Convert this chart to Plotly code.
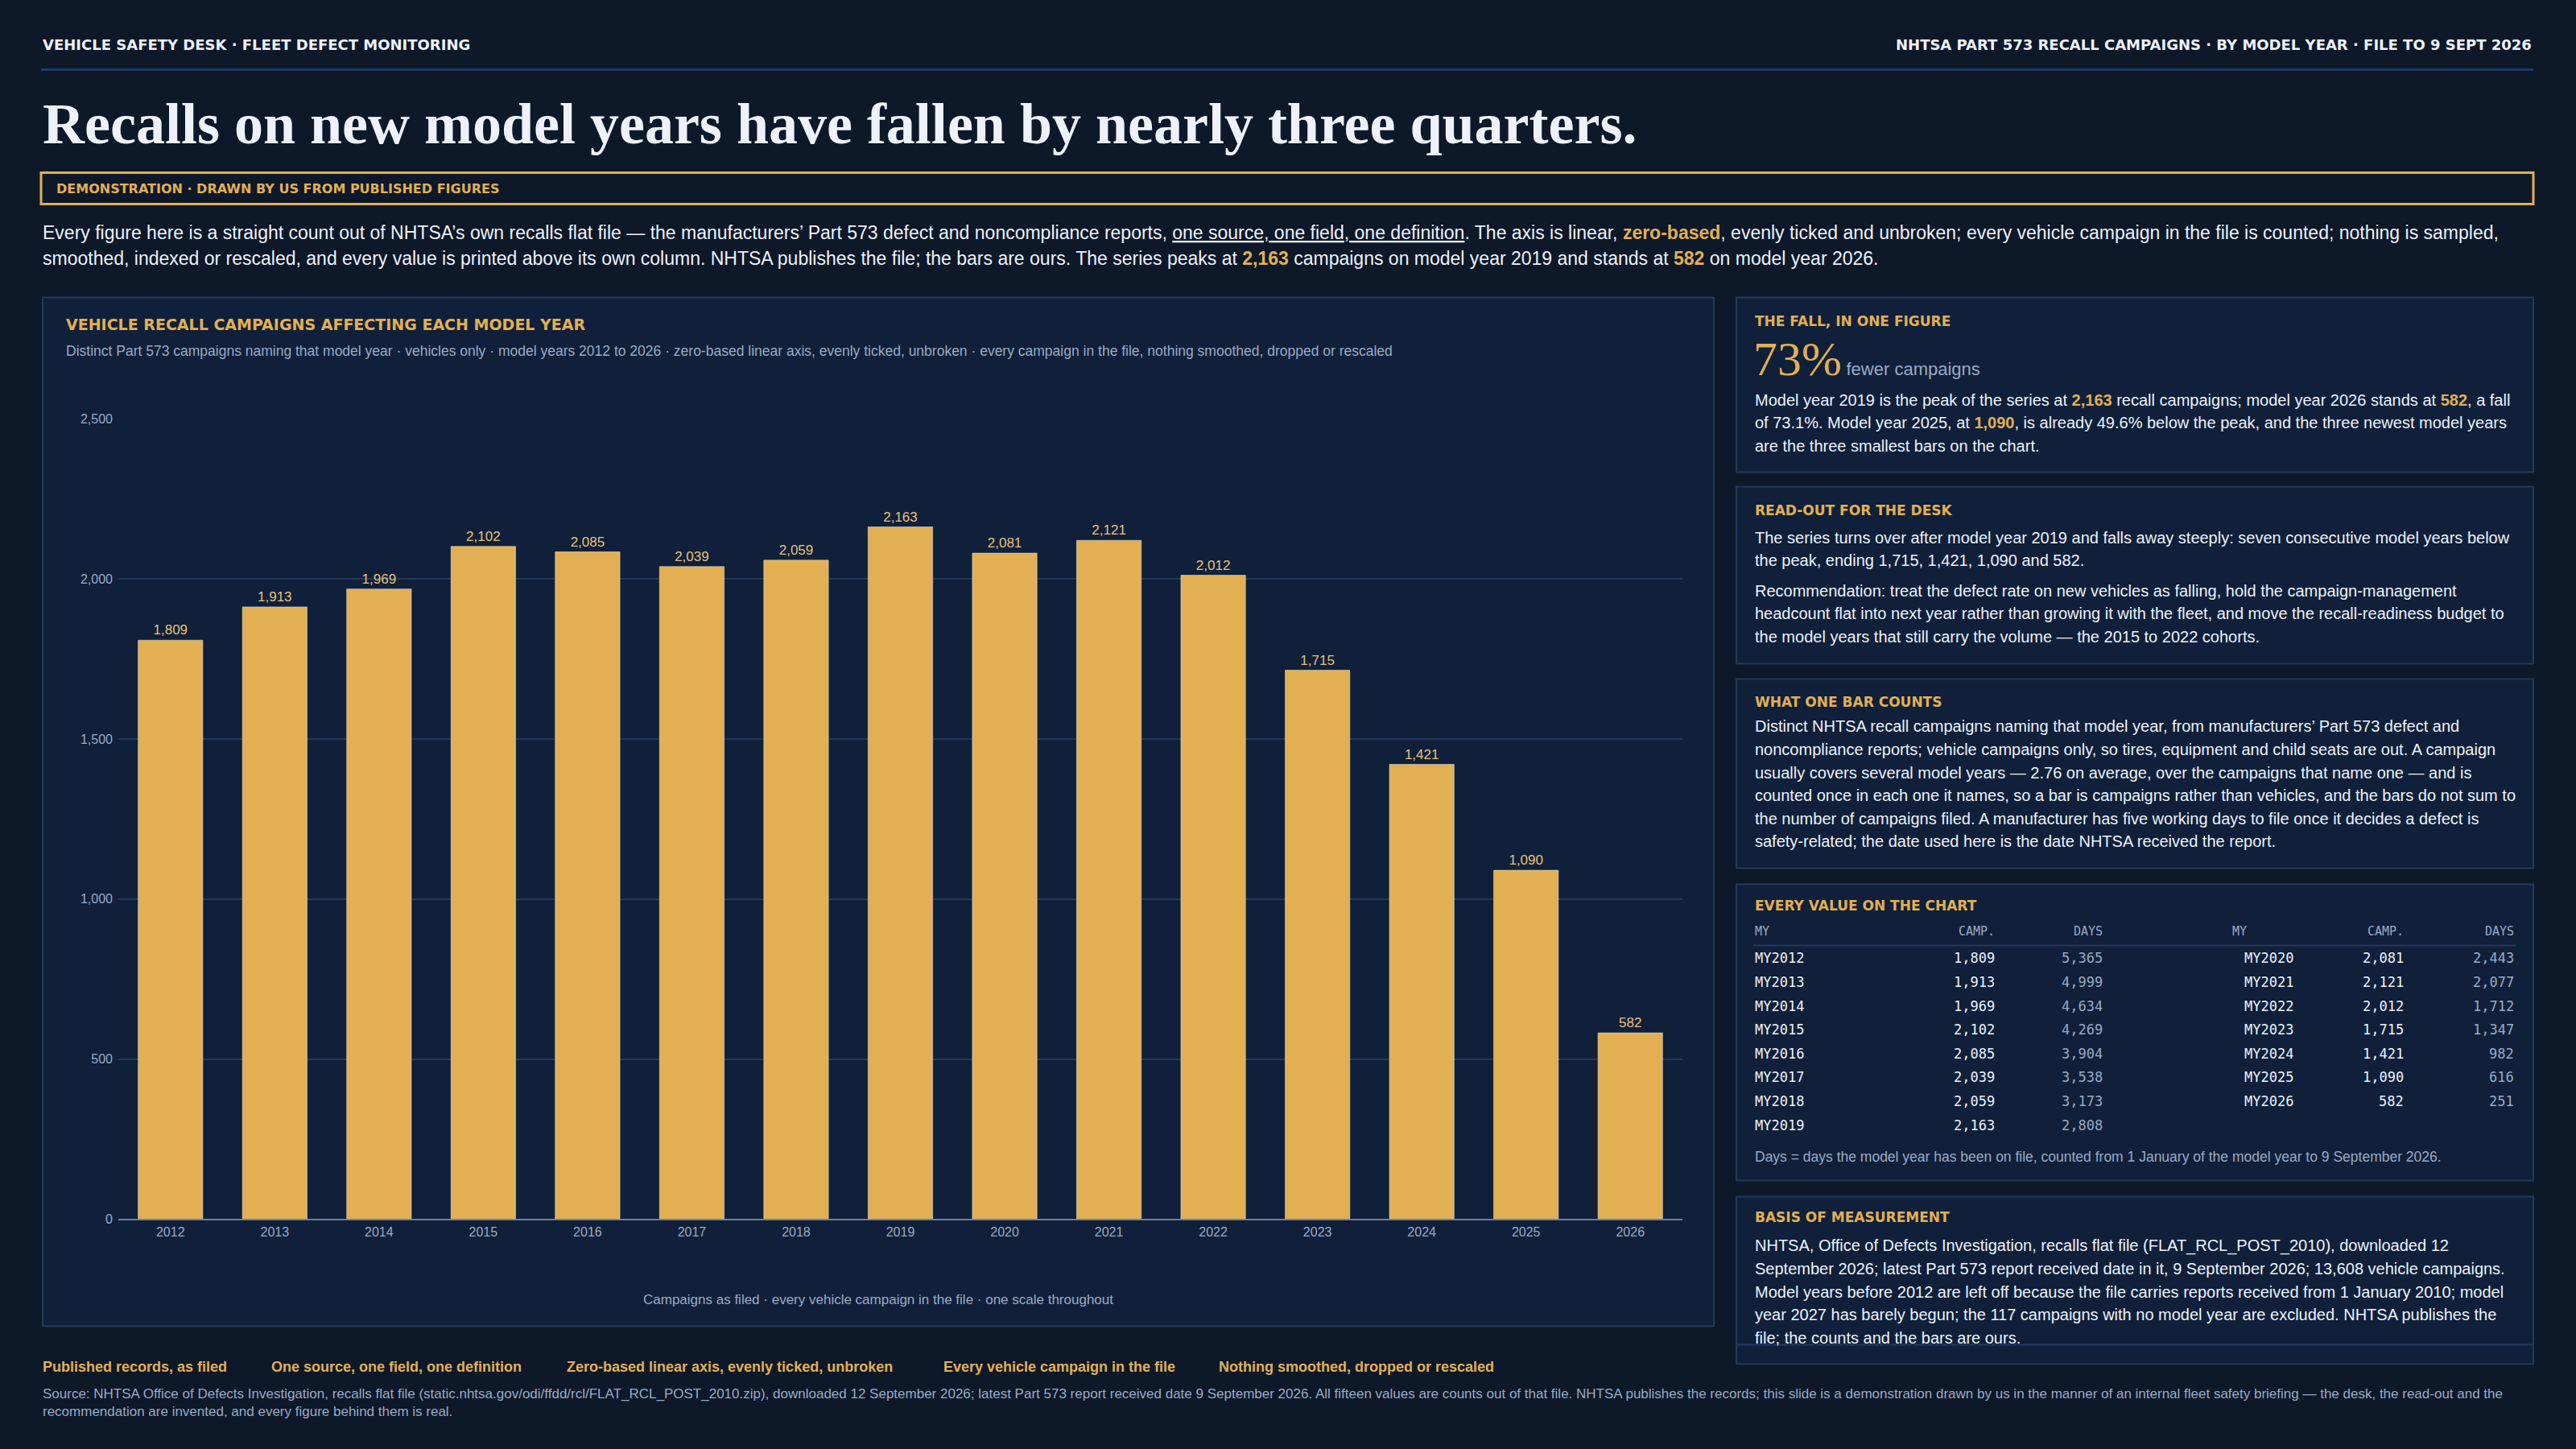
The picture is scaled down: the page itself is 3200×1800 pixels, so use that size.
import plotly.graph_objects as go

# data
years = [str(y) for y in range(2012, 2027)]
campaigns = [1809, 1913, 1969, 2102, 2085, 2039, 2059, 2163, 2081, 2121, 2012, 1715, 1421, 1090, 582]
days = [5365, 4999, 4634, 4269, 3904, 3538, 3173, 2808, 2443, 2077, 1712, 1347, 982, 616, 251]
y_ticks = [0, 500, 1000, 1500, 2000, 2500]
footer_tags = ["Published records, as filed", "One source, one field, one definition",
               "Zero-based linear axis, evenly ticked, unbroken", "Every vehicle campaign in the file",
               "Nothing smoothed, dropped or rescaled"]

BG = "#0d1829"
PANEL = "#10203a"
BORDER = "#23395a"
GOLD = "#e2b052"
WHITE = "#edf2fa"
MUTED = "#9aabc4"
SANS = "Liberation Sans, Arial, sans-serif"
CAPS = "DejaVu Sans, sans-serif"
MONO = "DejaVu Sans Mono, monospace"
W, H = 3200, 1800
LH = 28.6  # body line height in the side panels


def px(x):
    return x / W


def py(y):
    # small vertical stretch so the layout lines up with the reference
    y = y - 4 + (y - 370) * 12 / 1270
    return 1 - y / H


def hl(s):
    return f"<b><span style='color:{GOLD}'>{s}</span></b>"


fig = go.Figure()
fig.add_trace(go.Bar(
    x=years, y=campaigns, marker_color=GOLD, width=0.62,
    text=[f"{v:,}" for v in campaigns], textposition="outside",
    textfont=dict(color="#e8c27a", size=17, family=SANS), cliponaxis=False,
))

ann = []
shapes = []


def txt(x, y, s, size=21, color=WHITE, family=SANS, xanchor="left", yanchor="middle", align="left"):
    ann.append(dict(x=px(x), y=py(y), xref="paper", yref="paper", text=s, showarrow=False,
                    xanchor=xanchor, yanchor=yanchor, align=align,
                    font=dict(size=size, color=color, family=family)))


def lines(x, y0, rows, size=20):
    for k, s in enumerate(rows):
        txt(x, y0 + k * LH, s, size=size)


def box(x0, y0, x1, y1, fill=PANEL, line=BORDER, w=2):
    shapes.append(dict(type="rect", xref="paper", yref="paper", x0=px(x0), x1=px(x1), y0=py(y1), y1=py(y0),
                       fillcolor=fill, line=dict(color=line, width=w), layer="below"))


# header
txt(51, 55, "<b>VEHICLE SAFETY DESK · FLEET DEFECT MONITORING</b>", size=18, family=CAPS)
txt(3147, 55, "<b>NHTSA PART 573 RECALL CAMPAIGNS · BY MODEL YEAR · FILE TO 9 SEPT 2026</b>", size=18, family=CAPS, xanchor="right")
shapes.append(dict(type="line", xref="paper", yref="paper", x0=px(51), x1=px(3147), y0=py(86), y1=py(86),
                   line=dict(color=BORDER, width=3)))
txt(51, 153, "<b>Recalls on new model years have fallen by nearly three quarters.</b>", size=72,
    family="Liberation Serif, DejaVu Serif, serif")
box(51, 214, 3147, 253, fill=BG, line=GOLD, w=3)
txt(68, 234, "<b>DEMONSTRATION · DRAWN BY US FROM PUBLISHED FIGURES</b>", size=16, color=GOLD, family=CAPS)
txt(51, 288,
    "Every figure here is a straight count out of NHTSA’s own recalls flat file — the manufacturers’ Part 573 defect and noncompliance reports, "
    "<span style='text-decoration:underline'>one source, one field, one definition</span>. The axis is linear, " + hl("zero-based") +
    ", evenly ticked and unbroken; every vehicle campaign in the file is counted; nothing is sampled,", size=23)
txt(51, 320,
    "smoothed, indexed or rescaled, and every value is printed above its own column. NHTSA publishes the file; the bars are ours. The series peaks at "
    + hl("2,163") + " campaigns on model year 2019 and stands at " + hl("582") + " on model year 2026.", size=23)

# chart panel
box(53, 369, 2129, 1647)
txt(80, 402, "<b>VEHICLE RECALL CAMPAIGNS AFFECTING EACH MODEL YEAR</b>", size=19, color=GOLD, family=CAPS)
txt(80, 435, "Distinct Part 573 campaigns naming that model year · vehicles only · model years 2012 to 2026 · zero-based linear axis, "
    "evenly ticked, unbroken · every campaign in the file, nothing smoothed, dropped or rescaled", size=17.5, color=MUTED)
txt(1091, 1614, "Campaigns as filed · every vehicle campaign in the file · one scale throughout", size=17, color=MUTED, xanchor="center")

# right panels
box(2157, 369, 3147, 586)
txt(2178, 398, "<b>THE FALL, IN ONE FIGURE</b>", size=17, color=GOLD, family=CAPS)
txt(2176, 445, f"<span style='font-size:60px;color:{GOLD}'>73%</span> "
    f"<span style='font-size:22px;color:{MUTED};font-family:Liberation Sans'>fewer campaigns</span>",
    size=22, family="Liberation Serif, serif")
lines(2178, 496, [
    "Model year 2019 is the peak of the series at " + hl("2,163") + " recall campaigns; model year 2026 stands at " + hl("582") + ", a fall",
    "of 73.1%. Model year 2025, at " + hl("1,090") + ", is already 49.6% below the peak, and the three newest model years",
    "are the three smallest bars on the chart."])

box(2157, 604, 3147, 824)
txt(2178, 633, "<b>READ-OUT FOR THE DESK</b>", size=17, color=GOLD, family=CAPS)
lines(2178, 667, [
    "The series turns over after model year 2019 and falls away steeply: seven consecutive model years below",
    "the peak, ending 1,715, 1,421, 1,090 and 582."])
lines(2178, 733, [
    "Recommendation: treat the defect rate on new vehicles as falling, hold the campaign-management",
    "headcount flat into next year rather than growing it with the fleet, and move the recall-readiness budget to",
    "the model years that still carry the volume — the 2015 to 2022 cohorts."])

box(2157, 843, 3147, 1078)
txt(2178, 871, "<b>WHAT ONE BAR COUNTS</b>", size=17, color=GOLD, family=CAPS)
lines(2178, 902, [
    "Distinct NHTSA recall campaigns naming that model year, from manufacturers’ Part 573 defect and",
    "noncompliance reports; vehicle campaigns only, so tires, equipment and child seats are out. A campaign",
    "usually covers several model years — 2.76 on average, over the campaigns that name one — and is",
    "counted once in each one it names, so a bar is campaigns rather than vehicles, and the bars do not sum to",
    "the number of campaigns filed. A manufacturer has five working days to file once it decides a defect is",
    "safety-related; the date used here is the date NHTSA received the report."])

box(2157, 1098, 3147, 1466)
txt(2178, 1125, "<b>EVERY VALUE ON THE CHART</b>", size=17, color=GOLD, family=CAPS)
for x, s, xa in [(2178, "MY", "left"), (2480, "CAMP.", "right"), (2614, "DAYS", "right"),
                 (2793, "MY", "right"), (2988, "CAMP.", "right"), (3125, "DAYS", "right")]:
    txt(x, 1157, s, size=15, color=MUTED, family=MONO, xanchor=xa)
shapes.append(dict(type="line", xref="paper", yref="paper", x0=px(2178), x1=px(3125), y0=py(1174), y1=py(1174),
                   line=dict(color=BORDER, width=2)))
for i, (yr, c, d) in enumerate(zip(years, campaigns, days)):
    col = 0 if i < 8 else 1
    r = i if i < 8 else i - 8
    yy = 1190 + r * 29.6
    xs = (2178, 2480, 2614) if col == 0 else (2786, 2988, 3125)
    txt(xs[0], yy, f"MY{yr}", size=17, family=MONO)
    txt(xs[1], yy, f"{c:,}", size=17, family=MONO, xanchor="right")
    txt(xs[2], yy, f"{d:,}", size=17, family=MONO, color=MUTED, xanchor="right")
txt(2178, 1437, "Days = days the model year has been on file, counted from 1 January of the model year to 9 September 2026.",
    size=17.5, color=MUTED)

box(2157, 1486, 3147, 1694)
shapes.append(dict(type="line", xref="paper", yref="paper", x0=px(2157), x1=px(3147), y0=py(1670), y1=py(1670),
                   line=dict(color=BORDER, width=2)))
txt(2178, 1512, "<b>BASIS OF MEASUREMENT</b>", size=17, color=GOLD, family=CAPS)
lines(2178, 1547, [
    "NHTSA, Office of Defects Investigation, recalls flat file (FLAT_RCL_POST_2010), downloaded 12",
    "September 2026; latest Part 573 report received date in it, 9 September 2026; 13,608 vehicle campaigns.",
    "Model years before 2012 are left off because the file carries reports received from 1 January 2010; model",
    "year 2027 has barely begun; the 117 campaigns with no model year are excluded. NHTSA publishes the",
    "file; the counts and the bars are ours."])

# footer
for x, t in zip([51, 335, 702, 1170, 1512], footer_tags):
    txt(x, 1698, f"<b>{t}</b>", size=18, color=GOLD)
txt(51, 1720, "Source: NHTSA Office of Defects Investigation, recalls flat file (static.nhtsa.gov/odi/ffdd/rcl/FLAT_RCL_POST_2010.zip), downloaded 12 September 2026; "
    "latest Part 573 report received date 9 September 2026. All fifteen values are counts out of that file. NHTSA publishes the records; this slide is a demonstration "
    "drawn by us in the manner of an internal fleet safety briefing — the desk, the read-out and the<br>recommendation are invented, and every figure behind them is real.",
    size=17, color=MUTED, yanchor="top")

fig.update_layout(
    width=W, height=H, margin=dict(l=0, r=0, t=0, b=0),
    paper_bgcolor=BG, plot_bgcolor=PANEL, showlegend=False,
    font=dict(family=SANS, color=WHITE),
    annotations=ann, shapes=shapes, bargap=0.38,
    xaxis=dict(domain=[px(147), px(2090)], tickfont=dict(size=16, color=MUTED), showgrid=False,
               showline=True, linecolor="#6f819c", linewidth=2, ticks=""),
    yaxis=dict(domain=[py(1514), py(520)], range=[0, 2500], tickvals=y_ticks, tickformat=",",
               tickfont=dict(size=16, color=MUTED), gridcolor=BORDER, gridwidth=2, zeroline=False,
               ticks="", ticklabelstandoff=6),
)
fig.write_html("out.html", config={"displayModeBar": False},
               post_script="document.body.style.margin='0';document.body.style.background='#0d1829';")
